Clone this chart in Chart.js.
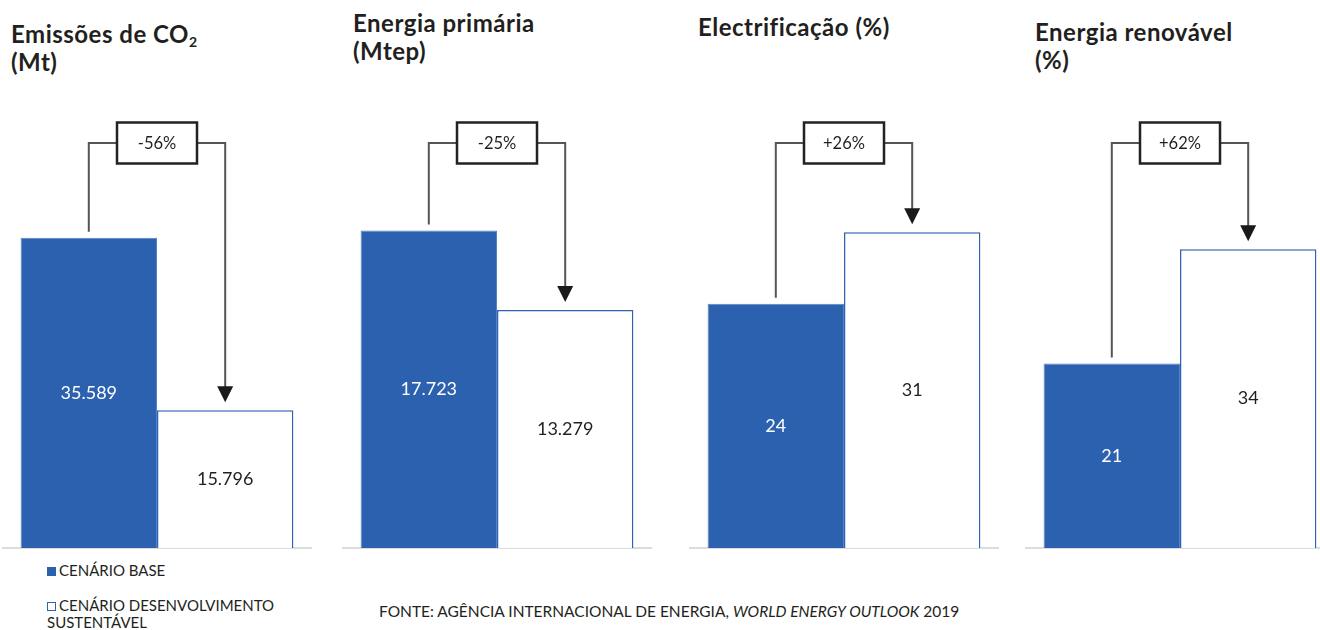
<!DOCTYPE html>
<html>
<head>
<meta charset="utf-8">
<script src="https://cdn.jsdelivr.net/npm/chart.js@4"></script>
<style>
  body { margin: 0; width: 1320px; height: 630px; overflow: hidden; background: #fff; position: relative; font-family: Lato, "Open Sans", sans-serif; color: #231f20; }
  canvas { position: absolute; top: 0; }
  .titulo { position: absolute; font-weight: bold; font-size: 24px; line-height: 28px; letter-spacing: 0.5px; }
  .titulo sub { font-size: 14px; vertical-align: -4px; line-height: 0; }
  .legenda { position: absolute; left: 47px; font-size: 15px; line-height: 17px; }
  .legenda span { display: inline-block; width: 9px; height: 9px; box-sizing: border-box; margin-right: 3px; }
  .fonte { position: absolute; left: 379px; top: 602px; font-size: 15.5px; }
</style>
</head>
<body>

<div class="titulo" style="left:11px; top:20px">Emissões de CO<sub>2</sub><br>(Mt)</div>
<div class="titulo" style="left:353px; top:9px">Energia primária<br>(Mtep)</div>
<div class="titulo" style="left:698px; top:13px">Electrificação (%)</div>
<div class="titulo" style="left:1035px; top:18px">Energia renovável<br>(%)</div>

<div class="legenda" style="top:562px"><span style="background:#2b61ae"></span>CENÁRIO BASE</div>
<div class="legenda" style="top:597px"><span style="border:1.5px solid #2f63b2"></span>CENÁRIO DESENVOLVIMENTO<br>SUSTENTÁVEL</div>
<div class="fonte">FONTE: AGÊNCIA INTERNACIONAL DE ENERGIA, <i>WORLD ENERGY OUTLOOK</i> 2019</div>

<canvas id="c0" width="310" height="560"></canvas>
<canvas id="c1" width="310" height="560"></canvas>
<canvas id="c2" width="310" height="560"></canvas>
<canvas id="c3" width="310" height="560"></canvas>

<script>
// dados
const categorias = ['Emissões de CO2 (Mt)', 'Energia primária (Mtep)', 'Electrificação (%)', 'Energia renovável (%)'];
const series = ['CENÁRIO BASE', 'CENÁRIO DESENVOLVIMENTO SUSTENTÁVEL'];
const cenarioBase = [35589, 17723, 24, 21];
const cenarioSustentavel = [15796, 13279, 31, 34];
const variacao = ['-56%', '-25%', '+26%', '+62%'];
const eixoMax = [51400, 25000, 44, 51];

// posição de cada painel
const esquerda = [2, 342, 689, 1025];

function formatar(v) {
  return v.toLocaleString('en-US').replace(/,/g, '.');
}

const setas = {
  id: 'setas',
  afterDatasetsDraw(chart, args, opts) {
    const ctx = chart.ctx;
    const a = chart.getDatasetMeta(0).data[0].getProps(['x', 'y', 'base', 'width'], true);
    const b = chart.getDatasetMeta(1).data[0].getProps(['x', 'y', 'base', 'width'], true);
    const linhaY = 143;
    const caixaW = 80, caixaH = 41;
    const cx = a.x + a.width / 2;

    ctx.save();
    // valores dentro das barras
    ctx.font = '18px Lato, "Open Sans", sans-serif';
    ctx.textAlign = 'center';
    ctx.textBaseline = 'middle';
    ctx.fillStyle = '#ffffff';
    ctx.fillText(formatar(chart.data.datasets[0].data[0]), a.x, (a.y + a.base) / 2);
    ctx.fillStyle = '#231f20';
    ctx.fillText(formatar(chart.data.datasets[1].data[0]), b.x, (b.y + b.base) / 2);

    // linhas de ligação
    ctx.strokeStyle = '#555';
    ctx.lineWidth = 2;
    ctx.beginPath();
    ctx.moveTo(a.x, a.y - 6);
    ctx.lineTo(a.x, linhaY);
    ctx.lineTo(cx - caixaW / 2, linhaY);
    ctx.moveTo(cx + caixaW / 2, linhaY);
    ctx.lineTo(b.x, linhaY);
    ctx.lineTo(b.x, b.y - 22);
    ctx.stroke();

    // ponta da seta
    ctx.fillStyle = '#1a1a1a';
    ctx.beginPath();
    ctx.moveTo(b.x - 8, b.y - 24);
    ctx.lineTo(b.x + 8, b.y - 24);
    ctx.lineTo(b.x, b.y - 8);
    ctx.closePath();
    ctx.fill();

    // caixa da variação
    ctx.fillStyle = '#fff';
    ctx.fillRect(cx - caixaW / 2, linhaY - caixaH / 2, caixaW, caixaH);
    ctx.strokeStyle = '#222';
    ctx.lineWidth = 2.5;
    ctx.strokeRect(cx - caixaW / 2, linhaY - caixaH / 2, caixaW, caixaH);
    ctx.fillStyle = '#231f20';
    ctx.font = '16.5px Lato, "Open Sans", sans-serif';
    ctx.fillText(opts.texto, cx, linhaY + 1);
    ctx.restore();
  }
};

categorias.forEach((cat, i) => {
  const canvas = document.getElementById('c' + i);
  canvas.style.left = esquerda[i] + 'px';

  new Chart(canvas, {
    type: 'bar',
    data: {
      labels: [cat],
      datasets: [{
        label: series[0],
        data: [cenarioBase[i]],
        backgroundColor: '#2b61ae',
        borderColor: '#5584c6',
        borderWidth: 1
      }, {
        label: series[1],
        data: [cenarioSustentavel[i]],
        backgroundColor: '#ffffff',
        borderColor: '#2f63b2',
        borderWidth: 1.5
      }]
    },
    options: {
      responsive: false,
      animation: false,
      layout: { padding: { top: 100, bottom: 12, left: 0, right: 0 } },
      datasets: { bar: { categoryPercentage: 0.88, barPercentage: 1 } },
      plugins: {
        legend: { display: false },
        tooltip: { enabled: false },
        setas: { texto: variacao[i] }
      },
      scales: {
        x: {
          display: true,
          grid: { display: false, drawTicks: false },
          ticks: { display: false },
          border: { display: true, color: '#dcdcdc', width: 2 }
        },
        y: { display: false, min: 0, max: eixoMax[i] }
      }
    },
    plugins: [setas]
  });
});
</script>
</body>
</html>
